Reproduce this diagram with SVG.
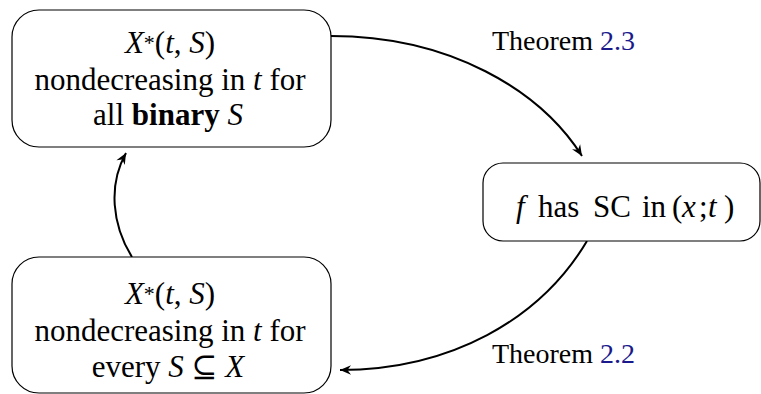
<svg xmlns="http://www.w3.org/2000/svg" width="761" height="394" viewBox="0 0 761 394">
<style>
.box{fill:#fff;stroke:#000;stroke-width:1.2}
.t{font-size:31px;fill:#000}
.c{text-anchor:middle}
.lbl{font-size:28px;fill:#000}
.ref{fill:#1a1a8c}
.i{font-style:italic}
.b{font-weight:bold}
.edge{fill:none;stroke:#000;stroke-width:2;marker-end:url(#arr)}
</style>
<defs>
<marker id="arr" markerUnits="userSpaceOnUse" viewBox="-12 -6 13 12" refX="0" refY="0" markerWidth="13" markerHeight="12" orient="auto">
<path d="M0,0 L-11,-4.8 L-7.5,0 L-11,4.8 Z" fill="#000"/>
</marker>
</defs>
<g id="connectors">
<path class="edge" d="M331,36 C450,36 540,90 582,156"/>
<path class="edge" d="M587,241 C540,320 450,370 340,370"/>
<path class="edge" d="M132,257 C112,225 108,185 126,153"/>
</g>
<g font-family="Liberation Serif, DejaVu Serif, serif">
<g id="node-binary">
<rect class="box" x="12" y="10" width="319" height="137" rx="27" ry="27"/>
<text class="t c" x="170" y="53"><tspan class="i">X</tspan><tspan font-size="22" dy="-3">*</tspan><tspan dy="3">(</tspan><tspan class="i">t</tspan>, <tspan class="i">S</tspan>)</text>
<text class="t c" x="170" y="90">nondecreasing in <tspan class="i">t</tspan> for</text>
<text class="t c" x="168" y="125">all <tspan class="b">binary</tspan> <tspan class="i">S</tspan></text>
</g>
<g id="node-every">
<rect class="box" x="12" y="257" width="319" height="136" rx="27" ry="27"/>
<text class="t c" x="170" y="304"><tspan class="i">X</tspan><tspan font-size="22" dy="-3">*</tspan><tspan dy="3">(</tspan><tspan class="i">t</tspan>, <tspan class="i">S</tspan>)</text>
<text class="t c" x="170" y="341">nondecreasing in <tspan class="i">t</tspan> for</text>
<text class="t c" x="168" y="377">every <tspan class="i">S</tspan> ⊆ <tspan class="i">X</tspan></text>
</g>
<g id="node-sc">
<rect class="box" x="483" y="163" width="277" height="78" rx="20" ry="20"/>
<text class="t" y="217"><tspan class="i" x="516">f</tspan><tspan x="538">has</tspan><tspan x="593">SC</tspan><tspan x="642">in</tspan><tspan x="672">(</tspan><tspan class="i" x="682">x</tspan><tspan x="699">;</tspan><tspan class="i" x="708">t</tspan><tspan x="724">)</tspan></text>
</g>
<g id="labels">
<text class="lbl" x="492" y="50">Theorem <tspan class="ref">2.3</tspan></text>
<text class="lbl" x="492" y="363">Theorem <tspan class="ref">2.2</tspan></text>
</g>
</g>
</svg>
